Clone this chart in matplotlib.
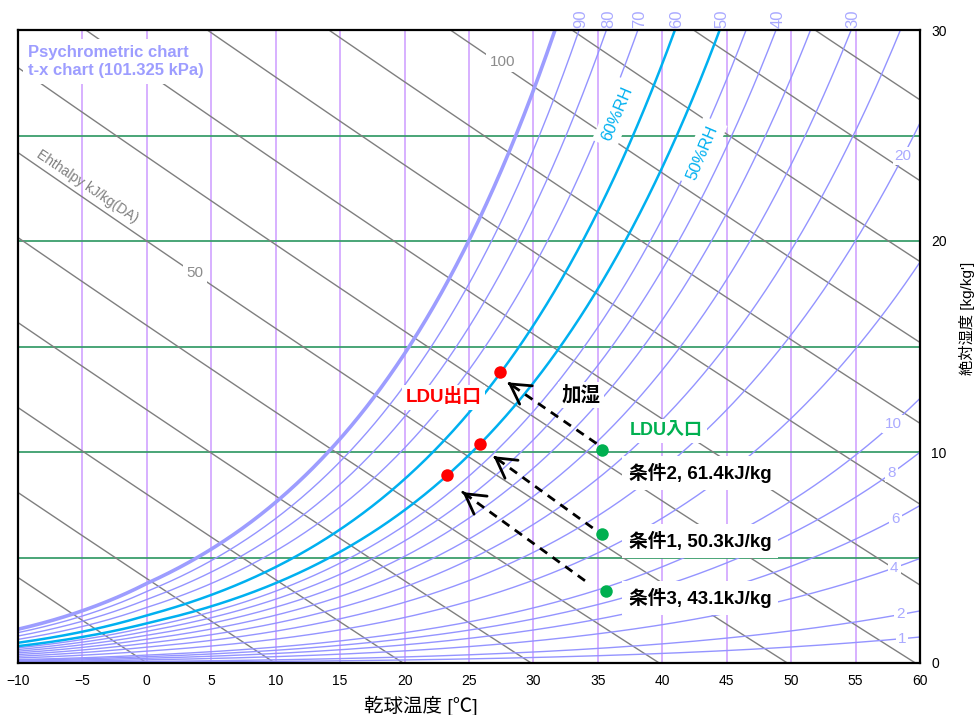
import numpy as np
import matplotlib
matplotlib.use('Agg')
import matplotlib.pyplot as plt

plt.rcParams['font.family'] = ['Liberation Sans', 'Noto Sans CJK JP', 'DejaVu Sans']

# chart grid levels
P = 101.325  # kPa
rh_levels = [100, 90, 80, 70, 60, 50, 45, 40, 35, 30, 25, 20, 15, 10, 8, 6, 4, 2, 1]
rh_top_labels = [90, 80, 70, 60, 50, 40, 30]
rh_side_labels = [20, 10, 8, 6, 4, 2, 1]
rh_side_t = [58.7, 57.9, 57.8, 58.1, 58.0, 58.5, 58.6]
h_levels = list(range(-10, 140, 10))
t_grid = list(range(-5, 60, 5))
x_grid = [5, 10, 15, 20, 25]
x_ticks = list(range(-10, 65, 5))
y_ticks = [0, 10, 20, 30]

# LDU outlet (red) and inlet (green) states
out_t = [27.4, 25.85, 23.3]
out_x = [13.8, 10.4, 8.9]
in_t = [35.3, 35.3, 35.6]
in_x = [10.1, 6.1, 3.4]
cond_labels = ['条件2, 61.4kJ/kg', '条件1, 50.3kJ/kg', '条件3, 43.1kJ/kg']
cond_y = [9.0, 5.8, 3.1]
arrow_start_t = [34.9, 34.6, 34.0]
arrow_start_x = [10.4, 6.4, 3.9]
arrow_end_t = [28.0, 26.9, 24.5]
arrow_end_x = [13.3, 9.8, 8.1]


def psat(t):
    t = np.asarray(t, dtype=float)
    water = 0.61094 * np.exp(17.625 * t / (t + 243.04))
    ice = 0.61115 * np.exp(22.452 * t / (272.55 + t))
    return np.where(t >= 0, water, ice)


def hum(t, rh):
    pv = rh / 100.0 * psat(t)
    return 622.0 * pv / (P - pv)


def t_at_x(x, rh):
    pv = x * P / (622.0 + x) / (rh / 100.0)
    a = np.log(pv / 0.61094)
    return 243.04 * a / (17.625 - a)


fig = plt.figure(figsize=(9.77, 7.15), dpi=100)
ax = fig.add_axes([18 / 977, 52 / 715, 902 / 977, 633 / 715])
ax.set_xlim(-10, 60)
ax.set_ylim(0, 30)

for t in t_grid:
    ax.axvline(t, color='#d4aaff', lw=1.3, zorder=1)
for x in x_grid:
    ax.axhline(x, color='#3c9e6c', lw=1.3, zorder=1)

tt = np.linspace(-10, 60, 600)
for h in h_levels:
    xx = (h - 1.006 * tt) / (2.501 + 0.001805 * tt)
    ax.plot(tt, xx, color='#7f7f7f', lw=1.0, zorder=2)

for rh in rh_levels:
    xx = hum(tt, rh)
    if rh == 100:
        ax.plot(tt, xx, color='#9d9dff', lw=2.6, zorder=3)
    elif rh in (60, 50):
        ax.plot(tt, xx, color='#00b0f0', lw=1.8, zorder=4)
    else:
        ax.plot(tt, xx, color='#9494ff', lw=1.0, zorder=3)

# RH labels above the frame
for rh in rh_top_labels:
    ax.annotate(str(rh), xy=(t_at_x(30, rh), 30), xytext=(1.5, 1.5), textcoords='offset points',
                rotation=90, ha='center', va='bottom', fontsize=12, color='#aaaaff',
                annotation_clip=False)

# RH labels on the right side
for rh, t in zip(rh_side_labels, rh_side_t):
    ax.text(t, hum(t, rh), str(rh), ha='center', va='center', fontsize=11, color='#aaaaff',
            zorder=6, bbox=dict(facecolor='white', edgecolor='none', pad=1.5))

white = dict(facecolor='white', edgecolor='none', pad=2.5)
ax.text(-9.2, 29.3, 'Psychrometric chart\nt-x chart (101.325 kPa)', ha='left', va='top',
        fontsize=12, fontweight='bold', color='#9d9dff', linespacing=1.3, zorder=6,
        bbox=dict(facecolor='white', edgecolor='none', pad=4))
ax.text(27.6, 28.5, '100', ha='center', va='center', fontsize=11, color='#8c8c8c',
        zorder=6, bbox=white)
ax.text(3.7, 18.5, '50', ha='center', va='center', fontsize=11, color='#8c8c8c',
        zorder=6, bbox=white)
ax.text(-4.6, 22.6, 'Ehthalpy kJ/kg(DA)', ha='center', va='center', fontsize=10,
        color='#808080', rotation=-34, rotation_mode='anchor', zorder=6)
ax.text(36.5, 26.05, '60%RH', ha='center', va='center', fontsize=12, color='#00b0f0',
        rotation=67, zorder=6, bbox=dict(facecolor='white', edgecolor='none', pad=4))
ax.text(43.1, 24.2, '50%RH', ha='center', va='center', fontsize=12, color='#00b0f0',
        rotation=67, zorder=6, bbox=dict(facecolor='white', edgecolor='none', pad=4))

# humidification arrows
for t0, x0, t1, x1 in zip(arrow_start_t, arrow_start_x, arrow_end_t, arrow_end_x):
    ax.plot([t0, t1], [x0, x1], color='black', lw=2.0, dashes=(3.2, 2.4), zorder=7)
    ax.annotate('', xy=(t1, x1), xytext=(t1 + (t0 - t1) * 0.02, x1 + (x0 - x1) * 0.02),
                arrowprops=dict(arrowstyle='->,head_length=0.7,head_width=0.4', lw=2.0,
                                color='black', mutation_scale=20), zorder=8)

ax.plot(out_t, out_x, 'o', color='#ff0000', ms=9, zorder=9, mec='none')
ax.plot(in_t, in_x, 'o', color='#00b050', ms=9, zorder=9, mec='none')

ax.text(23.05, 12.6, 'LDU出口', ha='center', va='center', fontsize=13.5, fontweight='bold',
        color='#ff0000', zorder=6, bbox=white)
ax.text(33.7, 12.7, '加湿', ha='center', va='center', fontsize=14, fontweight='bold',
        color='black', zorder=6, bbox=white)
ax.text(37.5, 11.0, 'LDU入口', ha='left', va='center', fontsize=13, fontweight='bold',
        color='#00b050', zorder=6, bbox=white)
for lab, y in zip(cond_labels, cond_y):
    ax.text(37.4, y, lab, ha='left', va='center', fontsize=13.5, fontweight='bold',
            color='black', zorder=6, bbox=dict(facecolor='white', edgecolor='none', pad=5))

ax.set_xticks(x_ticks)
ax.set_yticks(y_ticks)
ax.yaxis.tick_right()
ax.yaxis.set_label_position('right')
ax.tick_params(length=0, labelsize=10, pad=8)
for s in ax.spines.values():
    s.set_linewidth(1.6)
    s.set_color('black')
    s.set_zorder(10)
ax.set_xlabel('乾球温度 [℃]', fontsize=14)
ax.xaxis.set_label_coords((421 - 18) / 902, -(696 - 663) / 633)
ax.set_ylabel("絶対湿度 [kg/kg']", fontsize=11)
ax.yaxis.set_label_coords((959 - 18) / 902, (663 - 318) / 633)

fig.savefig('out.png', dpi=100)
